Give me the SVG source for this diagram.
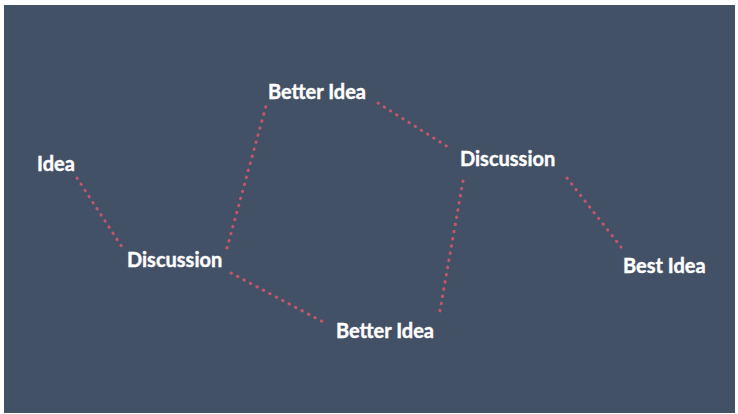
<svg xmlns="http://www.w3.org/2000/svg" width="738" height="414" viewBox="0 0 738 414">
  <style>
    .label { font-family: Lato, "Open Sans", "Liberation Sans", sans-serif; font-weight: 700; font-size: 20px; fill: #ffffff; stroke: #ffffff; stroke-width: 0.4; }
    .link { stroke: #c2566a; stroke-width: 3; stroke-linecap: round; stroke-dasharray: 0.5 6.8; fill: none; }
  </style>
  <rect x="0" y="0" width="738" height="414" fill="#ffffff"/>
  <rect x="4" y="5" width="731" height="408" fill="#435166"/>

  <g id="connectors">
    <line class="link" x1="77" y1="178" x2="122" y2="247"/>
    <line class="link" x1="227" y1="248" x2="266" y2="106"/>
    <line class="link" x1="378" y1="103" x2="448" y2="147"/>
    <line class="link" x1="231" y1="273" x2="327" y2="324"/>
    <line class="link" x1="463" y1="181" x2="439" y2="316"/>
    <line class="link" x1="567" y1="178" x2="621" y2="247"/>
  </g>

  <g id="idea"><text class="label" x="37" y="171">Idea</text></g>
  <g id="discussion-1"><text class="label" x="127" y="267">Discussion</text></g>
  <g id="better-idea-1"><text class="label" x="268" y="99">Better Idea</text></g>
  <g id="better-idea-2"><text class="label" x="336" y="338">Better Idea</text></g>
  <g id="discussion-2"><text class="label" x="460" y="166">Discussion</text></g>
  <g id="best-idea"><text class="label" x="623" y="273">Best Idea</text></g>
</svg>
